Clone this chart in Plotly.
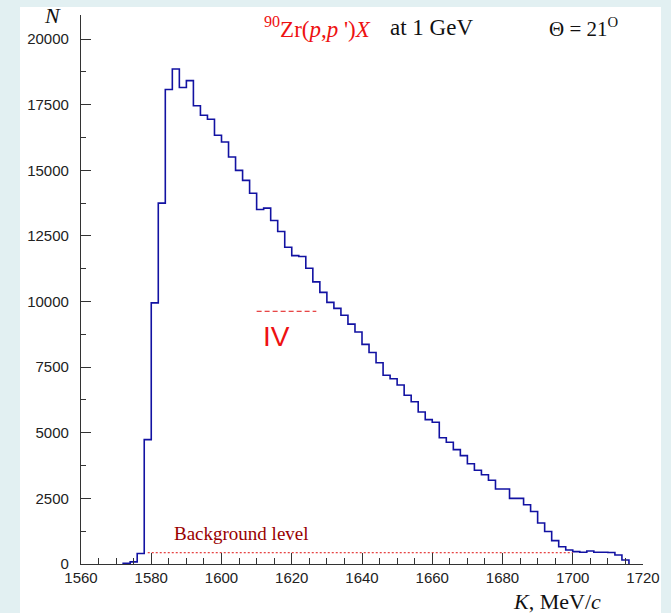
import plotly.graph_objects as go

# spectrum of scattered protons, 2 MeV/c bins (left edges)
bin_lo = list(range(1572, 1716, 2))
counts = [
    30, 80, 400, 4740, 9950, 13750, 18080, 18860, 18160, 18420,
    17460, 17100, 16950, 16340, 16080, 15510, 15000, 14620, 14130, 13510,
    13560, 13090, 12670, 12070, 11750, 11720, 11270, 10750, 10350, 9970,
    9740, 9480, 9140, 8840, 8370, 8060, 7670, 7190, 7060, 6820,
    6430, 6180, 5790, 5500, 5400, 4810, 4640, 4360, 4130, 3820,
    3570, 3400, 3190, 2860, 2860, 2500, 2500, 2260, 2000, 1560,
    1240, 890, 660, 535, 470, 445, 495, 445, 445, 440,
    345, 155,
]
bin_w = 2

background_level = 430
background_k = [1579, 1700]
iv_level = 9630
iv_k = [1610, 1627]

x_ticks = [1560, 1580, 1600, 1620, 1640, 1660, 1680, 1700, 1720]
y_ticks = [0, 2500, 5000, 7500, 10000, 12500, 15000, 17500, 20000]

# plot area in pixels (671x613 page)
L, R, T, B = 81, 643, 15, 564


def px(x):
    return (x - L) / (R - L)


def py(y):
    return (B - y) / (B - T)


xs = [bin_lo[0]] + bin_lo + [bin_lo[-1] + bin_w]
ys = [0] + counts + [0]

fig = go.Figure()
fig.add_trace(go.Scatter(x=xs, y=ys, mode="lines", line_shape="hv",
                         line=dict(color="#1212a2", width=1.6)))
fig.add_trace(go.Scatter(x=background_k, y=[background_level] * 2, mode="lines",
                         line=dict(color="#e01010", width=1, dash="2px,2px")))
fig.add_trace(go.Scatter(x=iv_k, y=[iv_level] * 2, mode="lines",
                         line=dict(color="#e01010", width=1, dash="5px,3px")))

tickfont = dict(family="Liberation Sans", size=15, color="#222")
fig.update_xaxes(range=[1560, 1720], tickvals=x_ticks, ticks="inside", ticklen=11,
                 tickcolor="#333", tickwidth=1, showline=True, linecolor="#333",
                 linewidth=1.2, showgrid=False, zeroline=False, tickfont=tickfont,
                 minor=dict(dtick=5, ticks="inside", ticklen=6, tickcolor="#333"))
fig.update_yaxes(range=[0, 20920], tickvals=y_ticks, ticktext=[str(v) for v in y_ticks],
                 ticks="inside", ticklen=10,
                 tickcolor="#333", tickwidth=1, showline=True, linecolor="#333",
                 linewidth=1.2, showgrid=False, zeroline=False, tickfont=tickfont,
                 ticklabelstandoff=8,
                 minor=dict(dtick=1250, ticks="inside", ticklen=5, tickcolor="#333"))

serif = "Liberation Serif"
red = "#ee1111"
ann = [
    dict(x=px(52), y=py(15), text="<i>N</i>", font=dict(family=serif, size=22, color="#111")),
    dict(x=px(262), y=py(27), xanchor="left",
         text="<sup>90</sup>Zr(<i>p</i>,<i>p</i> ')<i>X</i>",
         font=dict(family=serif, size=23, color=red)),
    dict(x=px(388), y=py(27), xanchor="left", text="at 1 GeV",
         font=dict(family=serif, size=23, color="#111")),
    dict(x=px(547), y=py(27), xanchor="left", text="\u0398 = 21<sup>O</sup>",
         font=dict(family=serif, size=21, color="#111")),
    dict(x=px(172), y=py(533), xanchor="left", text="Background level",
         font=dict(family=serif, size=19, color="#990000")),
    dict(x=px(276), y=py(336), text="IV",
         font=dict(family="Liberation Sans", size=28, color=red)),
    dict(x=px(603), y=py(601), xanchor="right", text="<i>K</i>, MeV/<i>c</i>",
         font=dict(family=serif, size=22, color="#111")),
]
for a in ann:
    a.setdefault("xanchor", "center")
    a.update(xref="paper", yref="paper", yanchor="middle", showarrow=False)
fig.update_layout(annotations=ann)

# white panel on the light cyan page
fig.add_shape(type="rect", xref="paper", yref="paper", layer="below",
              x0=px(20), x1=px(661), y0=py(613), y1=py(7),
              fillcolor="white", line=dict(width=0))

fig.update_layout(width=671, height=613, showlegend=False,
                  margin=dict(l=L, r=671 - R, t=T, b=613 - B),
                  paper_bgcolor="#e2f0f2", plot_bgcolor="white")

fig.write_html("out.html", config={"displayModeBar": False},
               post_script="document.body.style.margin='0';document.body.style.overflow='hidden';")
